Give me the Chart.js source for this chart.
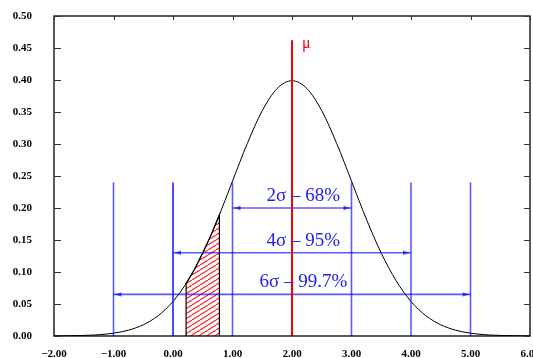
<!DOCTYPE html>
<html>
<head>
<meta charset="utf-8">
<script src="https://cdn.jsdelivr.net/npm/chart.js@4"></script>
<style>
  html, body { margin: 0; padding: 0; background: #fff; }
  #wrap { width: 533px; height: 358px; }
</style>
</head>
<body>
<div id="wrap"><canvas id="normalChart"></canvas></div>
<script>
// curve values (x step 0.25)
const curveX = [-2, -1.75, -1.5, -1.25, -1, -0.75, -0.5, -0.25, 0, 0.25, 0.5, 0.75, 1, 1.25, 1.5, 1.75,
    2, 2.25, 2.5, 2.75, 3, 3.25, 3.5, 3.75, 4, 4.25, 4.5, 4.75, 5, 5.25, 5.5, 5.75, 6];
const curveY = [0.0001, 0.0004, 0.0009, 0.002, 0.0044, 0.0091, 0.0175, 0.0317, 0.054, 0.0863, 0.1295, 0.1826, 0.242, 0.3011, 0.3521, 0.3867,
    0.3989, 0.3867, 0.3521, 0.3011, 0.242, 0.1826, 0.1295, 0.0863, 0.054, 0.0317, 0.0175, 0.0091, 0.0044, 0.002, 0.0009, 0.0004, 0.0001];

// hatched area under the curve
const hatchX = [0.22, 0.22, 0.36, 0.5, 0.64, 0.78, 0.78];
const hatchY = [0, 0.082, 0.104, 0.13, 0.158, 0.189, 0];

// vertical markers
const sigmaX = [-1, 1, 3, 4, 5];
const sigmaTop = 0.24;
const zeroX = 0;
const meanX = 2;
const meanTop = 0.462;

// arrows and their labels
const arrowY = [0.2, 0.13, 0.065];
const arrowFrom = [1, 0, -1];
const arrowTo = [3, 4, 5];
const arrowLabels = ['2σ – 68%', '4σ – 95%', '6σ – 99.7%'];

const xTicks = [-2, -1, 0, 1, 2, 3, 4, 5, 6];
const yTicks = [0, 0.05, 0.1, 0.15, 0.2, 0.25, 0.3, 0.35, 0.4, 0.45, 0.5];

const lightBlue = 'rgba(0, 0, 255, 0.65)';
const textBlue = '#2020f0';
const serif = '"Liberation Serif", "DejaVu Serif", serif';

// red diagonal hatch pattern
function makeHatch() {
    const c = document.createElement('canvas');
    c.width = 8; c.height = 5;
    const g = c.getContext('2d');
    g.fillStyle = '#fff';
    g.fillRect(0, 0, 8, 5);
    g.strokeStyle = '#ff2020';
    g.lineWidth = 1.1;
    for (let k = -1; k <= 1; k++) {
        g.beginPath();
        g.moveTo(k * 8, 5);
        g.lineTo(k * 8 + 8, 0);
        g.stroke();
    }
    return g.createPattern(c, 'repeat');
}

function pts(xs, ys) {
    return xs.map((x, i) => ({ x: x, y: ys[i] }));
}

function vline(x, top, color, width, order) {
    return {
        data: [{ x: x, y: 0 }, { x: x, y: top }],
        borderColor: color, borderWidth: width,
        pointRadius: 0, fill: false, order: order
    };
}

const datasets = [];
datasets.push({
    data: pts(hatchX, hatchY),
    borderColor: '#000', borderWidth: 1.2,
    backgroundColor: makeHatch(), fill: 'origin',
    pointRadius: 0, tension: 0, order: 6
});
datasets.push({
    data: pts(curveX, curveY),
    borderColor: '#000', borderWidth: 1,
    pointRadius: 0, fill: false,
    cubicInterpolationMode: 'monotone', order: 5
});
sigmaX.forEach(x => datasets.push(vline(x, sigmaTop, lightBlue, 1.6, 4)));
datasets.push(vline(zeroX, sigmaTop, '#0000ff', 1.4, 4));
arrowY.forEach((y, i) => datasets.push({
    data: [{ x: arrowFrom[i], y: y }, { x: arrowTo[i], y: y }],
    borderColor: lightBlue, borderWidth: 1.6,
    pointRadius: 0, fill: false, order: 3
}));
datasets.push(vline(meanX, meanTop, '#ff0000', 2, 1));

function fmt(v) {
    return v.toFixed(2).replace('-', '\u2212');
}

// frame, inward ticks, arrowheads and labels
const decorPlugin = {
    id: 'decor',
    afterDatasetsDraw(chart) {
        const ctx = chart.ctx;
        const xs = chart.scales.x, ys = chart.scales.y;
        const a = chart.chartArea;
        ctx.save();

        // arrowheads
        ctx.fillStyle = lightBlue;
        arrowY.forEach((y, i) => {
            const py = ys.getPixelForValue(y);
            [[arrowFrom[i], 1], [arrowTo[i], -1]].forEach(([x, dir]) => {
                const px = xs.getPixelForValue(x) + dir * 1;
                ctx.beginPath();
                ctx.moveTo(px, py);
                ctx.lineTo(px + dir * 7, py - 2.2);
                ctx.lineTo(px + dir * 7, py + 2.2);
                ctx.closePath();
                ctx.fill();
            });
        });

        // arrow labels
        ctx.fillStyle = textBlue;
        ctx.font = '19px ' + serif;
        ctx.textAlign = 'center';
        ctx.textBaseline = 'alphabetic';
        arrowY.forEach((y, i) => {
            ctx.fillText(arrowLabels[i], xs.getPixelForValue(2.19), ys.getPixelForValue(y) - 7);
        });

        // mu label
        ctx.fillStyle = '#ff0000';
        ctx.font = '16px ' + serif;
        ctx.textAlign = 'left';
        ctx.fillText('μ', xs.getPixelForValue(meanX) + 10, ys.getPixelForValue(meanTop) + 8);

        // frame
        ctx.strokeStyle = '#000';
        ctx.lineWidth = 1.3;
        ctx.strokeRect(a.left, a.top, a.right - a.left, a.bottom - a.top);

        // inward tick marks
        ctx.lineWidth = 1;
        ctx.strokeStyle = '#333';
        yTicks.forEach(v => {
            const py = Math.round(ys.getPixelForValue(v)) + 0.5;
            ctx.beginPath();
            ctx.moveTo(a.left, py); ctx.lineTo(a.left + 7, py);
            ctx.moveTo(a.right, py); ctx.lineTo(a.right - 6, py);
            ctx.stroke();
        });
        xTicks.forEach(v => {
            const px = Math.round(xs.getPixelForValue(v)) + 0.5;
            ctx.beginPath();
            ctx.moveTo(px, a.top); ctx.lineTo(px, a.top + 4);
            ctx.stroke();
        });
        ctx.restore();
    }
};

const ctx = document.getElementById('normalChart').getContext('2d');
const normalChart = new Chart(ctx, {
    type: 'line',
    data: { datasets: datasets },
    options: {
        responsive: true,
        maintainAspectRatio: false,
        animation: false,
        layout: { padding: { top: 16, right: 3, left: 0, bottom: 0 } },
        scales: {
            x: {
                type: 'linear',
                min: -2, max: 6,
                grid: { display: false, drawTicks: false },
                border: { display: false },
                ticks: {
                    stepSize: 1, maxRotation: 0, autoSkip: false, padding: 12,
                    color: '#000',
                    font: { family: serif, size: 11, weight: 'bold' },
                    callback: function (v) { return fmt(v); }
                },
                afterFit: function (scale) {
                    scale.height = 22;
                    scale.paddingLeft = 0;
                    scale.paddingRight = 0;
                }
            },
            y: {
                min: 0, max: 0.5,
                grid: { display: false, drawTicks: false },
                border: { display: false },
                ticks: {
                    stepSize: 0.05, padding: 22, autoSkip: false,
                    color: '#000',
                    font: { family: serif, size: 11, weight: 'bold' },
                    callback: function (v) { return fmt(v); }
                },
                afterFit: function (scale) {
                    scale.width = 54;
                    scale.paddingTop = 0;
                    scale.paddingBottom = 0;
                }
            }
        },
        plugins: {
            legend: { display: false },
            tooltip: { enabled: false }
        }
    },
    plugins: [decorPlugin]
});
</script>
</body>
</html>
